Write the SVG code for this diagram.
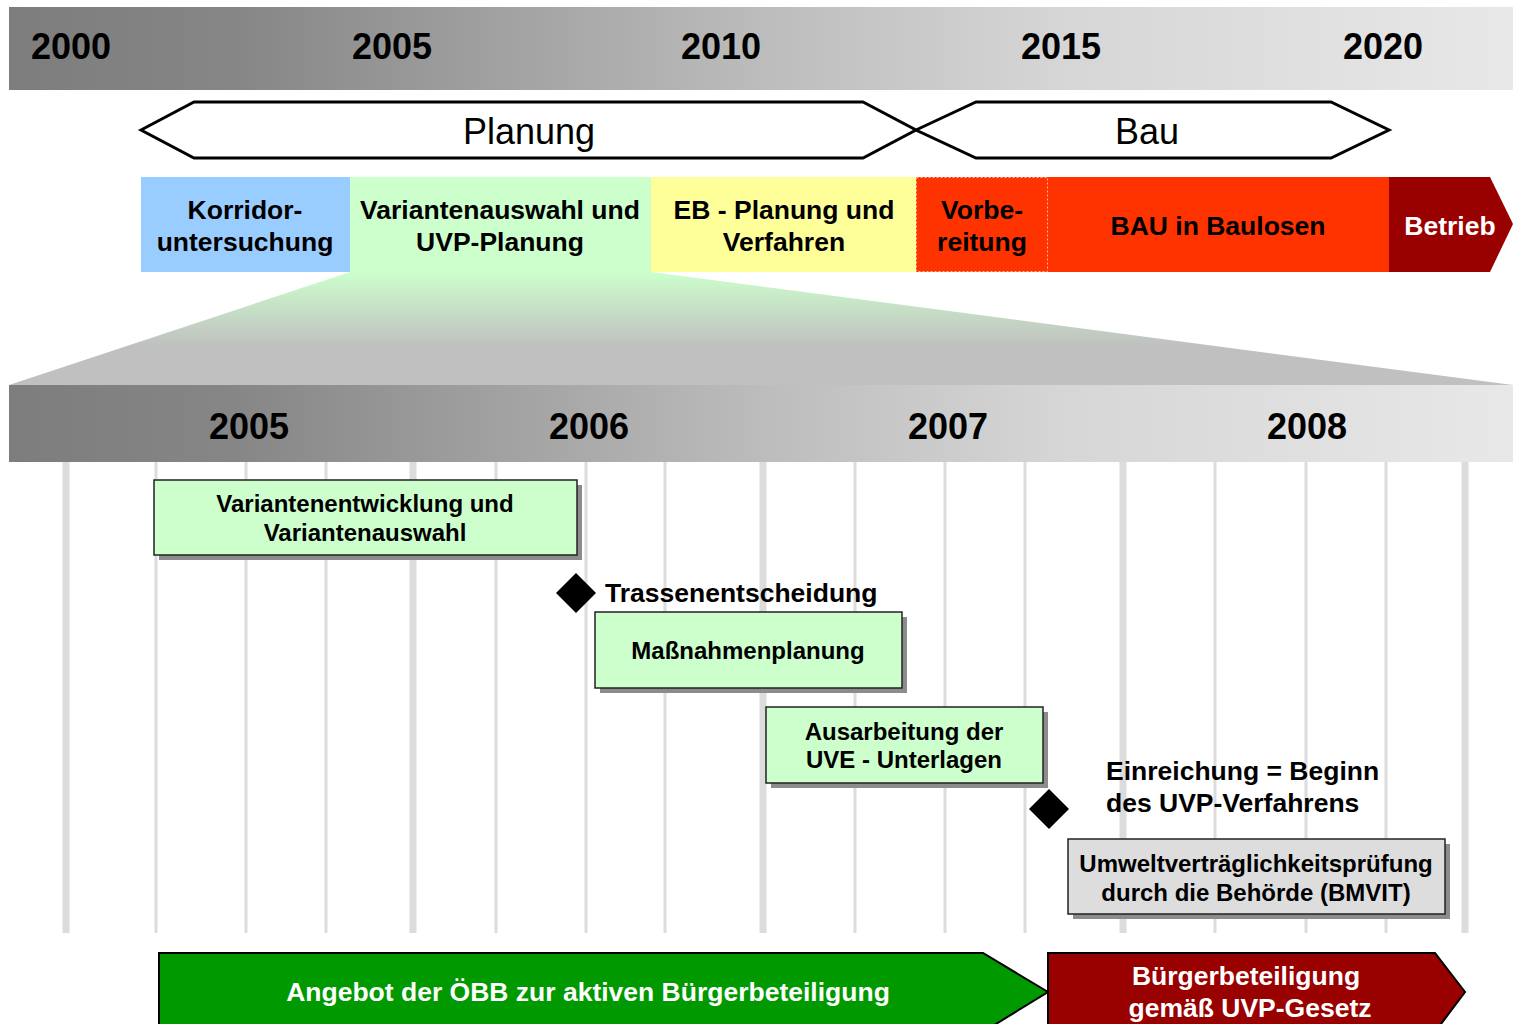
<svg xmlns="http://www.w3.org/2000/svg" width="1513" height="1024" viewBox="0 0 1513 1024">
<defs>
<linearGradient id="band" x1="0" y1="0" x2="1" y2="0">
<stop offset="0" stop-color="#7d7d7d"/>
<stop offset="0.15" stop-color="#868686"/>
<stop offset="0.5" stop-color="#bcbcbc"/>
<stop offset="0.7" stop-color="#d6d6d6"/>
<stop offset="1" stop-color="#e8e8e8"/>
</linearGradient>
<linearGradient id="trap" x1="0" y1="0" x2="0" y2="1">
<stop offset="0" stop-color="#ccffcc"/>
<stop offset="0.65" stop-color="#c0c0c0"/>
<stop offset="1" stop-color="#c0c0c0"/>
</linearGradient>
<style>
text{font-family:"Liberation Sans",Arial,sans-serif;fill:#000}
.yr{font-size:36px;font-weight:bold;text-anchor:middle}
.ph{font-size:36px;text-anchor:middle}
.pt{font-size:26.5px;font-weight:bold;text-anchor:middle}
.bt{font-size:24px;font-weight:bold;text-anchor:middle}
.ms{font-size:26.5px;font-weight:bold}
.wt{fill:#fff}
.hex{fill:#fff;stroke:#000;stroke-width:3}
.box{stroke:#222;stroke-width:1.5}
.sh{fill:#8c8c8c}
.gl{stroke:#dcdcdc;stroke-width:3}
.gt{stroke:#dcdcdc;stroke-width:7}
.arr{stroke:#000;stroke-width:2}
</style>
</defs>

<g id="timeline-top">
<rect x="9" y="7" width="1504" height="83" fill="url(#band)"/>
<text class="yr" x="71" y="59">2000</text>
<text class="yr" x="392" y="59">2005</text>
<text class="yr" x="721" y="59">2010</text>
<text class="yr" x="1061" y="59">2015</text>
<text class="yr" x="1383" y="59">2020</text>
</g>

<g id="planung">
<polygon class="hex" points="141,130 194,102 863,102 916,130 863,158 194,158"/>
<text class="ph" x="529" y="144">Planung</text>
</g>
<g id="bau">
<polygon class="hex" points="916,130 976,102 1331,102 1389,130 1331,158 976,158"/>
<text class="ph" x="1147" y="144">Bau</text>
</g>

<g id="zoom-trapezoid">
<polygon points="350,272 651,272 1513,385 9,385" fill="url(#trap)"/>
</g>

<g id="phase-korridor">
<rect x="141" y="177" width="209" height="95" fill="#99ccff"/>
<text class="pt" x="245" y="219">Korridor-</text>
<text class="pt" x="245" y="251">untersuchung</text>
</g>
<g id="phase-varianten">
<rect x="350" y="177" width="301" height="95" fill="#ccffcc"/>
<text class="pt" x="500" y="219">Variantenauswahl und</text>
<text class="pt" x="500" y="251">UVP-Planung</text>
</g>
<g id="phase-eb">
<rect x="651" y="177" width="265" height="95" fill="#ffff99"/>
<text class="pt" x="784" y="219">EB - Planung und</text>
<text class="pt" x="784" y="251">Verfahren</text>
</g>
<g id="phase-vorbereitung">
<rect x="916" y="177" width="132" height="95" fill="#ff3300"/>
<rect x="916.5" y="177.5" width="131" height="94" fill="none" stroke="#ffb3a0" stroke-width="1" stroke-dasharray="2,2"/>
<text class="pt" x="982" y="219">Vorbe-</text>
<text class="pt" x="982" y="251">reitung</text>
</g>
<g id="phase-bau">
<rect x="1048" y="177" width="341" height="95" fill="#ff3300"/>
<text class="pt" x="1218" y="235">BAU in Baulosen</text>
</g>
<g id="phase-betrieb">
<polygon points="1389,177 1490,177 1513,224 1490,272 1389,272" fill="#990000"/>
<text class="pt wt" x="1450" y="235">Betrieb</text>
</g>

<g id="timeline-detail">
<rect x="9" y="385" width="1504" height="77" fill="url(#band)"/>
<text class="yr" x="249" y="439">2005</text>
<text class="yr" x="589" y="439">2006</text>
<text class="yr" x="948" y="439">2007</text>
<text class="yr" x="1307" y="439">2008</text>
</g>

<g id="grid">
<line class="gt" x1="66" y1="462" x2="66" y2="933"/>
<line class="gl" x1="156" y1="462" x2="156" y2="933"/>
<line class="gl" x1="246" y1="462" x2="246" y2="933"/>
<line class="gl" x1="326" y1="462" x2="326" y2="933"/>
<line class="gt" x1="413" y1="462" x2="413" y2="933"/>
<line class="gl" x1="496" y1="462" x2="496" y2="933"/>
<line class="gl" x1="586" y1="462" x2="586" y2="933"/>
<line class="gl" x1="665" y1="462" x2="665" y2="933"/>
<line class="gt" x1="763" y1="462" x2="763" y2="933"/>
<line class="gl" x1="855" y1="462" x2="855" y2="933"/>
<line class="gl" x1="945" y1="462" x2="945" y2="933"/>
<line class="gl" x1="1025" y1="462" x2="1025" y2="933"/>
<line class="gt" x1="1123" y1="462" x2="1123" y2="933"/>
<line class="gl" x1="1215" y1="462" x2="1215" y2="933"/>
<line class="gl" x1="1306" y1="462" x2="1306" y2="933"/>
<line class="gl" x1="1386" y1="462" x2="1386" y2="933"/>
<line class="gt" x1="1465" y1="462" x2="1465" y2="933"/>
</g>

<g id="task-variantenentwicklung">
<rect class="sh" x="159" y="485" width="423" height="75"/>
<rect class="box" x="154" y="480" width="423" height="75" fill="#ccffcc"/>
<text class="bt" x="365" y="512">Variantenentwicklung und</text>
<text class="bt" x="365" y="541">Variantenauswahl</text>
</g>

<g id="milestone-trassenentscheidung">
<polygon points="576,573 596,593 576,613 556,593" fill="#000"/>
<text class="ms" x="605" y="602">Trassenentscheidung</text>
</g>

<g id="task-massnahmenplanung">
<rect class="sh" x="600" y="617" width="307" height="76"/>
<rect class="box" x="595" y="612" width="307" height="76" fill="#ccffcc"/>
<text class="bt" x="748" y="659">Maßnahmenplanung</text>
</g>

<g id="task-ausarbeitung">
<rect class="sh" x="771" y="712" width="277" height="76"/>
<rect class="box" x="766" y="707" width="277" height="76" fill="#ccffcc"/>
<text class="bt" x="904" y="740">Ausarbeitung der</text>
<text class="bt" x="904" y="768">UVE - Unterlagen</text>
</g>

<g id="milestone-einreichung">
<polygon points="1049,789 1069,809 1049,829 1029,809" fill="#000"/>
<text class="ms" x="1106" y="780">Einreichung = Beginn</text>
<text class="ms" x="1106" y="812">des UVP-Verfahrens</text>
</g>

<g id="task-uvp">
<rect class="sh" x="1073" y="844" width="377" height="75"/>
<rect class="box" x="1068" y="839" width="377" height="75" fill="#dddddd"/>
<text class="bt" x="1256" y="872">Umweltverträglichkeitsprüfung</text>
<text class="bt" x="1256" y="901">durch die Behörde (BMVIT)</text>
</g>

<g id="connectors"></g>

<g id="arrow-angebot">
<polygon class="arr" points="159,953 983,953 1048,992 983,1032 159,1032" fill="#009900"/>
<text class="pt wt" x="588" y="1001">Angebot der ÖBB zur aktiven Bürgerbeteiligung</text>
</g>
<g id="arrow-uvp-gesetz">
<polygon class="arr" points="1048,953 1435,953 1465,992 1435,1032 1048,1032" fill="#990000"/>
<text class="pt wt" x="1246" y="985">Bürgerbeteiligung</text>
<text class="pt wt" x="1250" y="1017">gemäß UVP-Gesetz</text>
</g>
</svg>
